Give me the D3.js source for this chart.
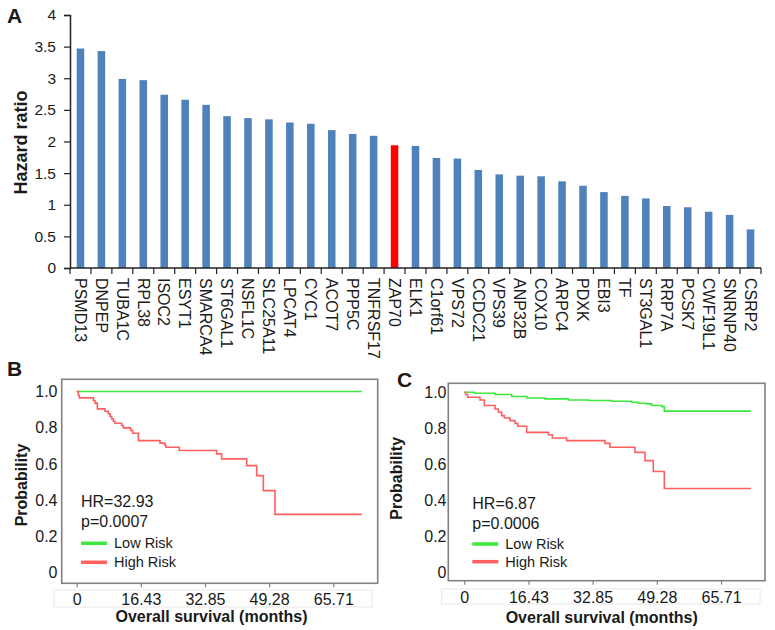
<!DOCTYPE html>
<html>
<head>
<meta charset="utf-8">
<script src="https://cdn.jsdelivr.net/npm/d3@7"></script>
<style>
  html, body { margin: 0; padding: 0; background: #fff; }
  svg { display: block; font-family: Arial, "Liberation Sans", sans-serif; }
</style>
</head>
<body>
<svg id="chart" width="775" height="630"></svg>
<script>
// ---------------- DATA ----------------
const genes = ["PSMD13","DNPEP","TUBA1C","RPL38","ISOC2","ESYT1","SMARCA4","ST6GAL1","NSFL1C","SLC25A11",
  "LPCAT4","CYC1","ACOT7","PPP5C","TNFRSF17","ZAP70","ELK1","C1orf61","VPS72","CCDC21","VPS39","ANP32B",
  "COX10","ARPC4","PDXK","EBI3","TF","ST3GAL1","RRP7A","PCSK7","CWF19L1","SNRNP40","CSRP2"];
const hazardRatios = [3.47,3.43,2.99,2.97,2.74,2.66,2.58,2.40,2.37,2.35,
  2.30,2.28,2.18,2.12,2.09,1.94,1.93,1.74,1.73,1.55,1.48,1.46,
  1.45,1.37,1.30,1.20,1.14,1.10,0.98,0.96,0.89,0.84,0.61];
const highlightGene = "ZAP70";
const hrTicks = [0,0.5,1,1.5,2,2.5,3,3.5,4];
const hrTickLabels = ["0","0.5","1","1.5","2","2.5","3","3.5","4"];

const timeTicks = [0,16.43,32.85,49.28,65.71];
const timeTickLabels = ["0","16.43","32.85","49.28","65.71"];
const probTicks = [0,0.2,0.4,0.6,0.8,1.0];
const probTickLabels = ["0","0.2","0.4","0.6","0.8","1.0"];

// Panel B survival steps [months, probability]
const bLowRisk = [[0,1],[72.98,1]];
const bHighRisk = [[0,1],[0.42,0.978],[0.67,0.965],[4.26,0.95],[4.69,0.936],[5.28,0.904],[7.25,0.891],
  [8.10,0.877],[8.53,0.862],[8.95,0.849],[9.38,0.836],[9.81,0.825],[11.52,0.812],[11.94,0.799],
  [13.82,0.785],[14.33,0.770],[15.78,0.729],[21.33,0.715],[22.61,0.702],[22.87,0.692],[26.29,0.674],
  [35.84,0.656],[37.12,0.628],[43.53,0.591],[46.09,0.536],[47.79,0.453],[50.78,0.322],[72.98,0.322]];
const bStats = ["HR=32.93","p=0.0007"];

// Panel C survival steps
const cLowRisk = [[0,1],[2.59,0.994],[7.86,0.987],[12.12,0.976],[16.0,0.968],[20.65,0.963],[26.63,0.957],
  [31.75,0.954],[37.72,0.95],[42.84,0.944],[44.55,0.939],[46.68,0.935],[47.96,0.926],[50.6,0.920],
  [51.2,0.895],[73.4,0.895]];
const cHighRisk = [[0,1],[0.35,0.987],[0.86,0.972],[4.02,0.957],[5.13,0.926],[7.86,0.907],[8.71,0.889],
  [9.56,0.870],[10.25,0.857],[11.70,0.842],[12.98,0.827],[13.66,0.811],[15.96,0.777],[21.51,0.764],
  [22.53,0.746],[26.2,0.731],[36.01,0.716],[37.29,0.694],[43.69,0.666],[46.25,0.620],[48.38,0.560],
  [51.2,0.465],[73.4,0.465]];
const cStats = ["HR=6.87","p=0.0006"];

const legendLabels = ["Low Risk","High Risk"];

// ---------------- STYLE ----------------
const BLUE = "#4f81bd", RED_BAR = "#ff0000";
const GREEN = "#3ee83e", SALMON = "#ff5f5f";
const TXT = "#1a1a1a";

const svg = d3.select("#chart");

// ---------------- PANEL A ----------------
const xA = d3.scaleBand().domain(genes).range([70, 761]).paddingInner(0.64).paddingOuter(0.32);
const yA = d3.scaleLinear().domain([0, 4]).range([268, 15]);

const gA = svg.append("g");
gA.selectAll("rect.bar").data(genes).join("rect")
  .attr("class","bar")
  .attr("x", d => xA(d))
  .attr("width", xA.bandwidth())
  .attr("y", (d,i) => yA(hazardRatios[i]))
  .attr("height", (d,i) => yA(0) - yA(hazardRatios[i]))
  .attr("fill", d => d === highlightGene ? RED_BAR : BLUE);

// y axis
const yAxisA = d3.axisLeft(yA).tickValues(hrTicks).tickFormat((d,i) => hrTickLabels[i]).tickSize(6).tickPadding(8);
const gy = gA.append("g").attr("transform","translate(70,0)").call(yAxisA);
gy.select(".domain").attr("stroke","#222").attr("stroke-width",1.5);
gy.selectAll(".tick line").attr("stroke","#222").attr("stroke-width",1.2);
gy.selectAll(".tick text").attr("font-size",15.5).attr("fill",TXT).attr("font-family","Arial, 'Liberation Sans', sans-serif");

// x axis line + ticks between bars
gA.append("line").attr("x1",70).attr("x2",761).attr("y1",yA(0)).attr("y2",yA(0))
  .attr("stroke","#222").attr("stroke-width",1.5);
const boundaries = d3.range(genes.length + 1).map(i => 70 + i * xA.step());
gA.selectAll("line.xt").data(boundaries).join("line").attr("class","xt")
  .attr("x1", d => d).attr("x2", d => d).attr("y1", yA(0)).attr("y2", yA(0) + 6)
  .attr("stroke","#222").attr("stroke-width",1.2);
gA.selectAll("text.gene").data(genes).join("text").attr("class","gene")
  .attr("transform", d => `translate(${xA(d) + xA.bandwidth()/2},278) rotate(90)`)
  .attr("dy","0.36em")
  .attr("font-size",16).attr("fill",TXT)
  .text(d => d);

gA.append("text").attr("transform","translate(26.5,142.5) rotate(-90)")
  .attr("text-anchor","middle").attr("font-weight","bold").attr("font-size",18).attr("fill",TXT)
  .text("Hazard ratio");
svg.append("text").attr("x",7).attr("y",23).attr("font-weight","bold").attr("font-size",21).attr("fill",TXT).text("A");

// ---------------- KM PANELS ----------------
function kmPanel(cfg) {
  const g = svg.append("g");
  const x = d3.scaleLinear().domain([0, 65.71]).range([cfg.x0, cfg.x65]);
  const y = d3.scaleLinear().domain([0, 1]).range([cfg.y0, cfg.y1]);

  // light box around time tick labels
  g.append("rect").attr("x",cfg.lbl[0]).attr("y",cfg.lbl[1]).attr("width",cfg.lbl[2]).attr("height",cfg.lbl[3])
    .attr("fill","none").attr("stroke","#e8e8e8").attr("stroke-width",1);

  // plot frame
  g.append("rect").attr("x",cfg.box[0]).attr("y",cfg.box[1]).attr("width",cfg.box[2]-cfg.box[0]).attr("height",cfg.box[3]-cfg.box[1])
    .attr("fill","none").attr("stroke","#808080").attr("stroke-width",1.6);

  // x axis ticks + labels
  const xAxis = d3.axisBottom(x).tickValues(timeTicks).tickFormat((d,i) => timeTickLabels[i]).tickSize(4).tickPadding(cfg.xPad);
  const gx = g.append("g").attr("transform",`translate(0,${cfg.box[3]})`).call(xAxis);
  gx.select(".domain").remove();
  gx.selectAll(".tick line").attr("stroke","#808080").attr("stroke-width",1.2);
  gx.selectAll(".tick text").attr("font-size",16).attr("fill",TXT).attr("font-family","Arial, 'Liberation Sans', sans-serif");

  // y axis labels
  const yAxis = d3.axisLeft(y).tickValues(probTicks).tickFormat((d,i) => probTickLabels[i]).tickSize(0).tickPadding(0);
  const gyy = g.append("g").attr("transform",`translate(${cfg.yLblX},0)`).call(yAxis);
  gyy.select(".domain").remove();
  gyy.selectAll(".tick text").attr("font-size",16).attr("fill",TXT).attr("font-family","Arial, 'Liberation Sans', sans-serif");

  const line = d3.line().x(d => x(d[0])).y(d => y(d[1])).curve(d3.curveStepAfter);
  g.append("path").datum(cfg.low).attr("d",line).attr("fill","none").attr("stroke",GREEN).attr("stroke-width",1.6);
  g.append("path").datum(cfg.high).attr("d",line).attr("fill","none").attr("stroke",SALMON).attr("stroke-width",1.6);

  // stats text
  g.append("text").attr("x",cfg.statX).attr("y",cfg.statY[0]).attr("font-size",16).attr("fill",TXT).text(cfg.stats[0]);
  g.append("text").attr("x",cfg.statX).attr("y",cfg.statY[1]).attr("font-size",16).attr("fill",TXT).text(cfg.stats[1]);

  // legend
  const colors = [GREEN, SALMON];
  legendLabels.forEach((lab, i) => {
    g.append("line").attr("x1",cfg.statX).attr("x2",cfg.statX + 26)
      .attr("y1",cfg.legY[i]).attr("y2",cfg.legY[i])
      .attr("stroke",colors[i]).attr("stroke-width",3.5);
    g.append("text").attr("x",cfg.statX + 33).attr("y",cfg.legY[i] + 5).attr("font-size",14.5).attr("fill",TXT).text(lab);
  });

  // axis titles
  g.append("text").attr("transform",`translate(${cfg.yTitle[0]},${cfg.yTitle[1]}) rotate(-90)`)
    .attr("text-anchor","middle").attr("font-weight","bold").attr("font-size",16).attr("fill",TXT).text("Probability");
  g.append("text").attr("x",cfg.xTitle[0]).attr("y",cfg.xTitle[1])
    .attr("text-anchor","middle").attr("font-weight","bold").attr("font-size",16).attr("fill",TXT).text("Overall survival (months)");

  svg.append("text").attr("x",cfg.letter[0]).attr("y",cfg.letter[1]).attr("font-weight","bold").attr("font-size",21).attr("fill",TXT).text(cfg.name);
}

kmPanel({
  name:"B", letter:[7,376],
  x0:76.7, x65:333.3, y0:572.7, y1:391.5,
  box:[61.7,379.3,377.7,583.3], lbl:[54,590,318,17], xPad:6,
  yLblX:57.5,
  low:bLowRisk, high:bHighRisk, stats:bStats,
  statX:81, statY:[506.5,527], legY:[543.3,562.3],
  yTitle:[26.5,485], xTitle:[211.5,622]
});
kmPanel({
  name:"C", letter:[397,387],
  x0:464.3, x65:721, y0:572.3, y1:392.2,
  box:[448.3,383.3,765,580.7], lbl:[441.7,589,318.3,15], xPad:7,
  yLblX:446.5,
  low:cLowRisk, high:cHighRisk, stats:cStats,
  statX:472.3, statY:[509,528.5], legY:[544,561.7],
  yTitle:[401.5,478.3], xTitle:[601.7,623]
});
</script>
</body>
</html>
